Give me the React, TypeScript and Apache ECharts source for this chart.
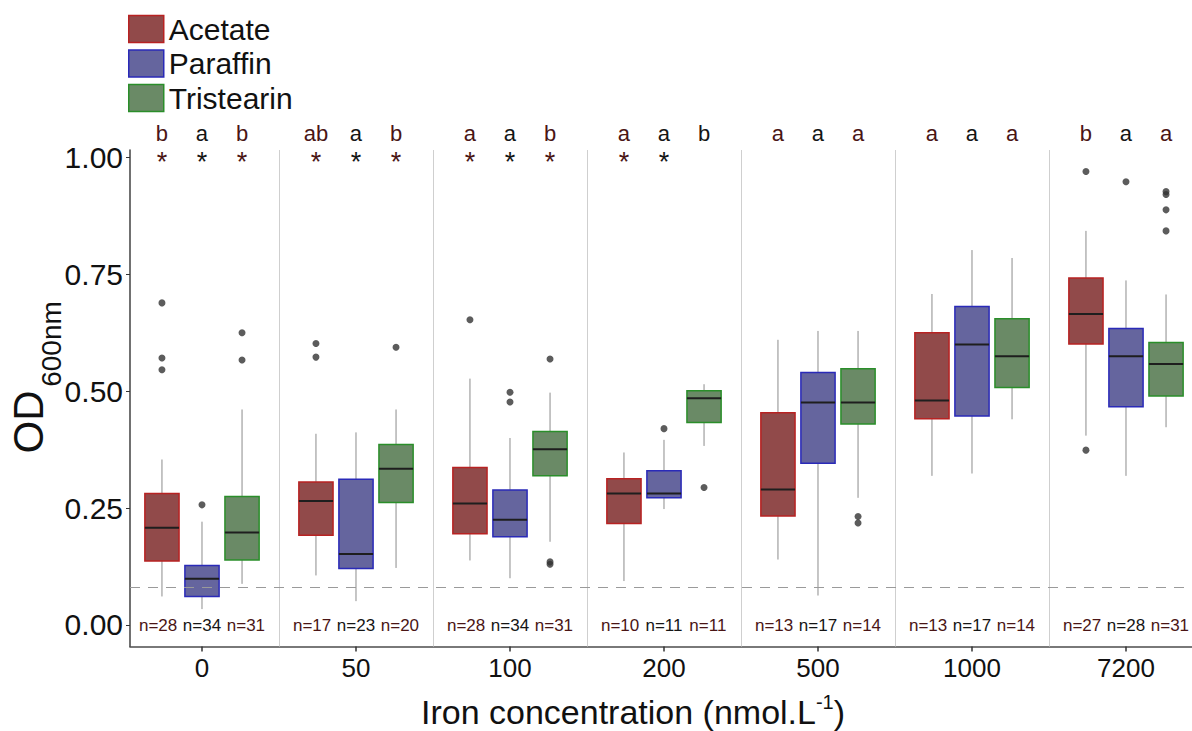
import React, { useEffect, useRef } from 'react';
import * as echarts from 'echarts';

// ---------------- data ----------------
const xLabels = ['0', '50', '100', '200', '500', '1000', '7200'];
const seriesNames = ['Acetate', 'Paraffin', 'Tristearin'];

// [lower whisker, q1, median, q3, upper whisker] per iron concentration
const acetateBoxes = [
  [0.061, 0.137, 0.208, 0.281, 0.354],
  [0.106, 0.192, 0.265, 0.306, 0.409],
  [0.138, 0.195, 0.260, 0.337, 0.527],
  [0.094, 0.217, 0.281, 0.313, 0.369],
  [0.140, 0.233, 0.290, 0.454, 0.610],
  [0.319, 0.441, 0.480, 0.625, 0.708],
  [0.405, 0.601, 0.665, 0.742, 0.843],
];
const paraffinBoxes = [
  [0.034, 0.061, 0.099, 0.127, 0.221],
  [0.051, 0.121, 0.152, 0.312, 0.412],
  [0.100, 0.189, 0.225, 0.289, 0.400],
  [0.248, 0.272, 0.281, 0.330, 0.396],
  [0.063, 0.346, 0.476, 0.540, 0.629],
  [0.324, 0.447, 0.600, 0.681, 0.802],
  [0.319, 0.467, 0.575, 0.634, 0.737],
];
const tristearinBoxes = [
  [0.088, 0.139, 0.198, 0.275, 0.461],
  [0.122, 0.262, 0.334, 0.386, 0.461],
  [0.178, 0.319, 0.376, 0.414, 0.497],
  [0.383, 0.433, 0.485, 0.501, 0.515],
  [0.272, 0.430, 0.476, 0.548, 0.629],
  [0.440, 0.508, 0.575, 0.655, 0.785],
  [0.423, 0.490, 0.558, 0.604, 0.707],
];

// outliers: [group index, value]
const acetateOutliers = [
  [0, 0.689], [0, 0.571], [0, 0.546], [1, 0.602], [1, 0.573], [2, 0.653], [6, 0.970], [6, 0.374],
];
const paraffinOutliers = [
  [0, 0.257], [2, 0.498], [2, 0.477], [3, 0.420], [6, 0.948],
];
const tristearinOutliers = [
  [0, 0.625], [0, 0.567], [1, 0.594], [2, 0.569], [2, 0.135], [2, 0.130], [3, 0.294],
  [4, 0.232], [4, 0.218], [6, 0.927], [6, 0.921], [6, 0.888], [6, 0.843],
];

// significance letters, asterisks, sample sizes
const acetateLetters = ['b', 'ab', 'a', 'a', 'a', 'a', 'b'];
const paraffinLetters = ['a', 'a', 'a', 'a', 'a', 'a', 'a'];
const tristearinLetters = ['b', 'b', 'b', 'b', 'a', 'a', 'a'];
const acetateStars = [true, true, true, true, false, false, false];
const paraffinStars = [true, true, true, true, false, false, false];
const tristearinStars = [true, true, true, false, false, false, false];
const acetateN = [28, 17, 28, 10, 13, 13, 27];
const paraffinN = [34, 23, 34, 11, 17, 17, 28];
const tristearinN = [31, 20, 31, 11, 14, 14, 31];

const detectionLimit = 0.08;
const yTicks = [0, 0.25, 0.5, 0.75, 1.0];

// ---------------- styles ----------------
const FONT = 'Liberation Sans, Arial, sans-serif';
const FILLS = ['#914a4a', '#65659e', '#6a8a66'];
const BORDERS = ['#b82222', '#2a2ab8', '#2a8e2a'];
const TEXT_COLORS = ['#4a1515', '#151515', '#4a1515'];
const OFFSETS = [-0.26, 0, 0.26];
const N_OFFSETS = [-0.285, 0, 0.285];
const BOX_W = 0.222;
const LETTER_Y = 1.052;
const STAR_Y = 0.99;
const N_Y = -0.002;

const boxes = [acetateBoxes, paraffinBoxes, tristearinBoxes];
const outliers = [acetateOutliers, paraffinOutliers, tristearinOutliers];
const letters = [acetateLetters, paraffinLetters, tristearinLetters];
const stars = [acetateStars, paraffinStars, tristearinStars];
const ns = [acetateN, paraffinN, tristearinN];

type Ann = { x: number; y: number; text: string; color: string; size: number };

function buildAnnotations(): Ann[] {
  const out: Ann[] = [];
  for (let s = 0; s < 3; s++) {
    for (let g = 0; g < xLabels.length; g++) {
      let letterColor = TEXT_COLORS[s];
      if (s === 2 && g === 3) letterColor = '#151515';
      out.push({ x: g + OFFSETS[s], y: LETTER_Y, text: letters[s][g], color: letterColor, size: 22 });
      if (stars[s][g]) out.push({ x: g + OFFSETS[s], y: STAR_Y, text: '*', color: TEXT_COLORS[s], size: 27 });
      out.push({ x: g + N_OFFSETS[s], y: N_Y, text: 'n=' + ns[s][g], color: TEXT_COLORS[s], size: 17 });
    }
  }
  return out;
}

export default function App() {
  const ref = useRef<HTMLDivElement>(null);

  useEffect(() => {
    if (!ref.current) return;
    const chart = echarts.init(ref.current, undefined, { renderer: 'svg' });
    const annotations = buildAnnotations();

    const boxSeries = seriesNames.map((name, s) => ({
      type: 'custom',
      name,
      z: 3,
      clip: false,
      itemStyle: { color: FILLS[s], borderColor: BORDERS[s], borderWidth: 1.5 },
      data: boxes[s].map((b, g) => [g, ...b]),
      encode: { x: 0, y: [1, 2, 3, 4, 5] },
      renderItem: (params: any, api: any) => {
        const x = api.value(0) + OFFSETS[s];
        const yLow = api.coord([x, api.value(1)])[1];
        const yQ1 = api.coord([x, api.value(2)])[1];
        const yMed = api.coord([x, api.value(3)])[1];
        const yQ3 = api.coord([x, api.value(4)])[1];
        const yHigh = api.coord([x, api.value(5)])[1];
        const cx = api.coord([x, 0])[0];
        const hw = api.size([BOX_W, 0])[0] / 2;
        return {
          type: 'group',
          children: [
            { type: 'line', shape: { x1: cx, y1: yHigh, x2: cx, y2: yQ3 }, style: { stroke: '#8c8c8c', lineWidth: 1 } },
            { type: 'line', shape: { x1: cx, y1: yQ1, x2: cx, y2: yLow }, style: { stroke: '#8c8c8c', lineWidth: 1 } },
            {
              type: 'rect',
              shape: { x: cx - hw, y: yQ3, width: hw * 2, height: yQ1 - yQ3 },
              style: { fill: FILLS[s], stroke: BORDERS[s], lineWidth: 1.5 },
            },
            { type: 'line', shape: { x1: cx - hw, y1: yMed, x2: cx + hw, y2: yMed }, style: { stroke: '#1e1e1e', lineWidth: 2 } },
          ],
        };
      },
    }));

    const outlierSeries = outliers.map((list, s) => ({
      type: 'scatter',
      name: seriesNames[s] + ' outliers',
      z: 4,
      symbol: 'circle',
      symbolSize: 7,
      itemStyle: { color: '#333333' },
      silent: true,
      data: list.map(([g, v]) => [g + OFFSETS[s], v]),
    }));

    const refSeries = {
      type: 'scatter',
      name: 'refs',
      z: 1,
      data: [],
      silent: true,
      markLine: {
        silent: true,
        symbol: ['none', 'none'],
        label: { show: false },
        animation: false,
        data: [
          ...xLabels.slice(1).map((_, i) => ({ xAxis: i + 0.5, lineStyle: { color: '#cfcfcf', width: 1, type: 'solid' } })),
          { yAxis: detectionLimit, lineStyle: { color: '#9a9a9a', width: 1.2, type: [10, 8] } },
        ],
      },
    };

    const annSeries = {
      type: 'custom',
      name: 'annotations',
      z: 5,
      clip: false,
      silent: true,
      data: annotations.map((a) => [a.x, a.y]),
      encode: { x: 0, y: 1 },
      renderItem: (params: any, api: any) => {
        const a = annotations[params.dataIndex];
        const p = api.coord([a.x, a.y]);
        return {
          type: 'text',
          x: p[0],
          y: p[1],
          style: {
            text: a.text,
            fill: a.color,
            fontSize: a.size,
            fontFamily: FONT,
            align: 'center',
            verticalAlign: 'middle',
          },
        };
      },
    };

    const option: any = {
      animation: false,
      backgroundColor: '#ffffff',
      grid: { left: 130, right: 0, top: 150, bottom: 84.5 },
      legend: {
        orient: 'vertical',
        left: 128,
        top: 14,
        padding: 0,
        icon: 'rect',
        itemWidth: 35,
        itemHeight: 27,
        itemGap: 4.5,
        selectedMode: false,
        textStyle: { fontSize: 30, lineHeight: 27, color: '#111111', fontFamily: FONT },
        data: seriesNames.map((n, s) => ({
          name: n,
          itemStyle: { color: FILLS[s], borderColor: BORDERS[s], borderWidth: 1.5 },
        })),
      },
      xAxis: {
        type: 'value',
        min: -0.4675,
        max: 6.4286,
        splitLine: { show: false },
        axisLine: { show: true, onZero: false, lineStyle: { color: '#4d4d4d', width: 1.6 } },
        axisTick: {
          show: true,
          length: 5,
          customValues: xLabels.map((_, i) => i),
          lineStyle: { color: '#333333', width: 1.5 },
        },
        axisLabel: {
          customValues: xLabels.map((_, i) => i),
          formatter: (v: number) => xLabels[Math.round(v)] ?? '',
          fontSize: 26,
          color: '#111111',
          fontFamily: FONT,
          margin: 8,
        },
      },
      yAxis: {
        type: 'value',
        min: -0.046,
        max: 1.016,
        splitLine: { show: false },
        axisLine: { show: true, onZero: false, lineStyle: { color: '#4d4d4d', width: 1.6 } },
        axisTick: {
          show: true,
          length: 4,
          customValues: yTicks,
          lineStyle: { color: '#333333', width: 1 },
        },
        axisLabel: {
          customValues: yTicks,
          formatter: (v: number) => v.toFixed(2),
          fontSize: 30,
          color: '#111111',
          fontFamily: FONT,
          margin: 7,
        },
      },
      graphic: [
        {
          type: 'text',
          x: 633,
          y: 712,
          style: {
            text: '{a|Iron concentration (nmol.L}{s|-1}{a|)}',
            align: 'center',
            verticalAlign: 'middle',
            rich: {
              a: { fontSize: 34, lineHeight: 40, fontFamily: FONT, fill: '#111111', color: '#111111' },
              s: { fontSize: 20, lineHeight: 20, verticalAlign: 'top', fontFamily: FONT, fill: '#111111', color: '#111111' },
            },
          },
        },
        {
          type: 'text',
          x: 28,
          y: 422,
          rotation: Math.PI / 2,
          style: { text: 'OD', fontSize: 42, fontFamily: FONT, fill: '#111111', align: 'center', verticalAlign: 'middle' },
        },
        {
          type: 'text',
          x: 51,
          y: 344,
          rotation: Math.PI / 2,
          style: { text: '600nm', fontSize: 28, fontFamily: FONT, fill: '#111111', align: 'center', verticalAlign: 'middle' },
        },
      ],
      series: [refSeries, ...boxSeries, ...outlierSeries, annSeries],
    };

    chart.setOption(option);
    return () => chart.dispose();
  }, []);

  return (
    <div
      ref={ref}
      style={{ position: 'fixed', left: 0, top: 0, width: 1192, height: 731, background: '#ffffff' }}
    />
  );
}
